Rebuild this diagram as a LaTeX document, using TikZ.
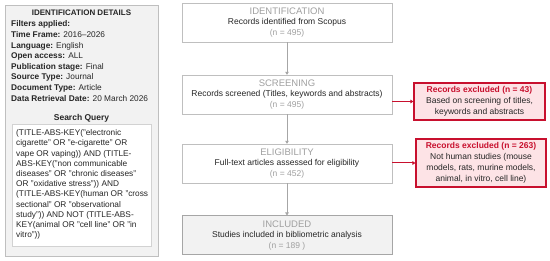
\documentclass[tikz,border=0pt]{standalone}
\usepackage{fontspec}
\setmainfont{Liberation Sans}
\usepackage{xcolor}
\usepackage{tikz}
\usetikzlibrary{arrows.meta}

\definecolor{boxline}{HTML}{BFBFBF}
\definecolor{darkline}{HTML}{A6A6A6}
\definecolor{lightfill}{HTML}{F2F2F2}
\definecolor{titlegray}{HTML}{A0A0A0}
\definecolor{textdark}{HTML}{262626}
\definecolor{exred}{HTML}{C8102E}
\definecolor{exfill}{HTML}{FDE3E6}

\newcommand{\stagefont}{\fontsize{9.5}{10.5}\selectfont\color{titlegray}}

\tikzset{
  flowbox/.style={draw=boxline, fill=white, minimum width=210pt, minimum height=39pt,
    inner sep=0pt, align=center, text=textdark, font=\fontsize{8.5}{10.5}\selectfont},
  exbox/.style={draw=exred, line width=1.1pt, fill=exfill, inner sep=0pt, align=center,
    text=textdark, font=\fontsize{8.5}{11}\selectfont},
  flowarrow/.style={draw=darkline, line width=0.9pt, -{Triangle[length=3pt,width=3.5pt]}},
  exarrow/.style={draw=exred, line width=1pt, -{Triangle[length=3pt,width=3.5pt]}}
}

\begin{document}
\begin{tikzpicture}[x=1pt,y=-1pt]
  % canvas
  \useasboundingbox[fill=white] (0,0) rectangle (550,261);

  % left panel with search details
  \node[draw=boxline, fill=lightfill, minimum width=153pt, minimum height=251pt, inner sep=0pt] (details) at (81.5,130.5) {};
  \node[font=\fontsize{8}{10}\selectfont\bfseries, text=textdark] (dettitle) at (81.5,13) {IDENTIFICATION DETAILS};
  \node[anchor=west, inner sep=0pt, align=left, text=textdark, font=\fontsize{8.3}{10.6}\selectfont] (filters) at (11,61)
    {\textbf{Filters applied:}\\
     \textbf{Time Frame:} 2016--2026\\
     \textbf{Language:} English\\
     \textbf{Open access:} ALL\\
     \textbf{Publication stage:} Final\\
     \textbf{Source Type:} Journal\\
     \textbf{Document Type:} Article\\
     \textbf{Data Retrieval Date:} 20 March 2026};
  \node[font=\fontsize{8.5}{10}\selectfont\bfseries, text=textdark] (sqtitle) at (81.5,118) {Search Query};
  \node[draw=boxline!70, fill=white, minimum width=139pt, minimum height=122pt, inner sep=0pt] (querybox) at (81.5,185) {};
  \node[anchor=west, inner sep=0pt, align=left, text=textdark, font=\fontsize{8.3}{10.2}\selectfont] (query) at (16,184.5)
    {(TITLE-ABS-KEY("electronic\\
     cigarette" OR "e-cigarette" OR\\
     vape OR vaping)) AND (TITLE-\\
     ABS-KEY("non communicable\\
     diseases" OR "chronic diseases"\\
     OR "oxidative stress")) AND\\
     (TITLE-ABS-KEY(human OR "cross\\
     sectional" OR "observational\\
     study")) AND NOT (TITLE-ABS-\\
     KEY(animal OR "cell line" OR "in\\
     vitro"))};

  % flow stages
  \node[flowbox] (ident) at (287,22.5)
    {{\stagefont IDENTIFICATION}\\ Records identified from Scopus\\ {\color{titlegray}(n = 495)}};
  \node[flowbox] (screen) at (287,94.5)
    {{\stagefont SCREENING}\\ Records screened (Titles, keywords and abstracts)\\ {\color{titlegray}(n = 495)}};
  \node[flowbox] (elig) at (287,163.5)
    {{\stagefont ELIGIBILITY}\\ Full-text articles assessed for eligibility\\ {\color{titlegray}(n = 452)}};
  \node[flowbox, draw=darkline, line width=1pt, fill=lightfill] (incl) at (287,235.5)
    {{\stagefont INCLUDED}\\ Studies included in bibliometric analysis\\ {\color{titlegray}(n = 189 )}};

  % exclusion boxes
  \node[exbox, minimum width=131pt, minimum height=37pt] (excl1) at (479.5,101.5)
    {\textcolor{exred}{\textbf{Records excluded (n = 43)}}\\ Based on screening of titles,\\ keywords and abstracts};
  \node[exbox, minimum width=130pt, minimum height=48pt] (excl2) at (481,163)
    {\textcolor{exred}{\textbf{Records excluded (n = 263)}}\\ Not human studies (mouse\\ models, rats, murine models,\\ animal, in vitro, cell line)};

  % connectors
  \draw[flowarrow] (ident) -- (screen);
  \draw[flowarrow] (screen) -- (elig);
  \draw[flowarrow] (elig) -- (incl);
  \draw[exarrow] (screen.east |- excl1.west) -- (excl1.west);
  \draw[exarrow] (elig.east |- excl2.west) -- (excl2.west);
\end{tikzpicture}
\end{document}
